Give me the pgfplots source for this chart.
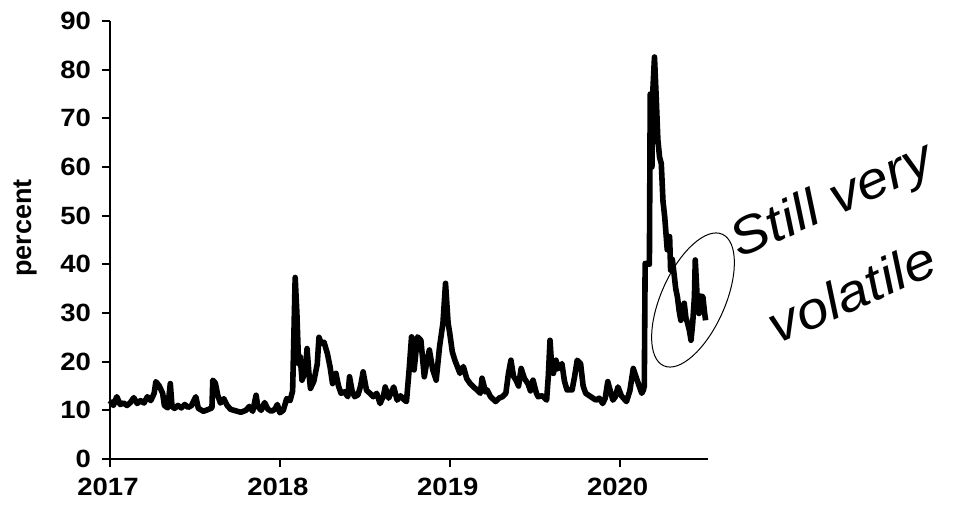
\documentclass[border=0pt]{standalone}
\usepackage{fontspec}
\setmainfont{Liberation Sans}[FakeStretch=1.1, BoldFeatures={FakeStretch=1.1}]
\newfontfamily\labfont{Liberation Sans}
\newfontfamily\handfont{Liberation Sans}[FakeStretch=1.1, ItalicFeatures={FakeStretch=1.1}]
\usepackage{pgfplots}
\pgfplotsset{compat=1.18}
\usetikzlibrary{shapes.geometric}
\pgfplotstableread{
x y
2017.00 12.0
2017.02 11.0
2017.04 12.8
2017.06 11.2
2017.08 11.5
2017.10 11.0
2017.12 11.6
2017.14 12.6
2017.16 11.4
2017.18 12.0
2017.20 11.5
2017.22 12.8
2017.24 12.0
2017.26 13.5
2017.27 15.9
2017.29 15.0
2017.31 13.5
2017.32 11.0
2017.34 10.5
2017.355 15.5
2017.365 10.8
2017.38 10.4
2017.40 11.0
2017.42 10.5
2017.44 11.2
2017.46 10.6
2017.48 11.0
2017.505 12.8
2017.52 10.4
2017.55 9.8
2017.58 10.2
2017.60 10.5
2017.605 16.2
2017.62 15.6
2017.635 13.0
2017.65 11.5
2017.67 12.4
2017.69 11.0
2017.71 10.2
2017.74 9.9
2017.77 9.6
2017.80 10.0
2017.82 10.8
2017.84 9.8
2017.86 13.1
2017.87 10.8
2017.89 10.0
2017.91 11.6
2017.93 10.2
2017.95 9.8
2017.97 10.2
2017.985 11.2
2018.00 9.5
2018.02 10.0
2018.04 12.4
2018.06 12.0
2018.075 14.0
2018.09 37.3
2018.10 30.0
2018.11 19.6
2018.12 21.0
2018.13 16.2
2018.15 18.0
2018.16 22.7
2018.17 18.0
2018.18 14.5
2018.20 16.0
2018.22 19.5
2018.23 25.0
2018.245 23.7
2018.26 24.0
2018.28 21.6
2018.295 19.0
2018.31 15.5
2018.33 17.6
2018.345 15.0
2018.36 13.5
2018.38 13.8
2018.40 12.8
2018.41 16.9
2018.425 14.0
2018.44 12.8
2018.46 13.2
2018.475 15.0
2018.49 17.9
2018.50 16.0
2018.51 14.1
2018.53 13.5
2018.55 12.8
2018.57 13.5
2018.59 11.4
2018.61 13.0
2018.62 14.8
2018.64 12.5
2018.67 14.8
2018.69 12.1
2018.71 13.0
2018.73 12.2
2018.745 11.8
2018.76 18.0
2018.775 25.1
2018.79 18.3
2018.81 25.1
2018.83 24.4
2018.85 16.9
2018.865 20.0
2018.88 22.4
2018.90 18.3
2018.92 16.2
2018.94 23.1
2018.96 28.0
2018.975 36.1
2018.99 28.0
2019.00 25.8
2019.015 22.0
2019.03 20.3
2019.06 17.6
2019.08 19.0
2019.10 16.5
2019.12 15.5
2019.14 14.8
2019.16 14.2
2019.18 13.5
2019.19 16.6
2019.21 13.8
2019.22 14.2
2019.24 12.8
2019.27 11.8
2019.29 12.5
2019.31 12.8
2019.33 13.5
2019.345 17.5
2019.36 20.3
2019.375 17.0
2019.39 16.2
2019.405 15.0
2019.42 18.6
2019.44 16.5
2019.46 15.5
2019.475 14.0
2019.49 16.2
2019.51 13.5
2019.52 12.8
2019.545 13.0
2019.57 12.1
2019.58 17.0
2019.59 24.4
2019.60 19.0
2019.61 17.6
2019.625 20.3
2019.635 18.5
2019.66 19.6
2019.675 16.0
2019.69 14.2
2019.72 14.2
2019.735 17.0
2019.75 20.3
2019.77 19.6
2019.785 15.0
2019.80 13.5
2019.83 12.8
2019.86 12.1
2019.88 12.5
2019.90 11.4
2019.915 12.5
2019.93 15.9
2019.945 14.0
2019.96 12.1
2019.975 12.8
2019.99 14.8
2020.01 13.0
2020.04 11.8
2020.06 14.0
2020.08 18.6
2020.095 17.0
2020.11 15.5
2020.13 13.5
2020.14 14.2
2020.145 15.0
2020.15 40.2
2020.175 40.0
2020.18 75.0
2020.19 60.0
2020.195 75.5
2020.205 82.6
2020.215 74.4
2020.225 65.5
2020.235 62.0
2020.245 60.7
2020.255 53.0
2020.265 49.8
2020.28 43.0
2020.294 45.7
2020.30 38.8
2020.31 41.0
2020.32 38.1
2020.33 35.0
2020.34 33.3
2020.35 30.5
2020.36 28.5
2020.37 31.0
2020.38 32.0
2020.39 29.0
2020.40 27.9
2020.41 26.5
2020.42 24.4
2020.43 28.0
2020.44 33.3
2020.445 40.9
2020.455 34.0
2020.467 29.9
2020.48 33.5
2020.49 33.3
2020.50 30.0
2020.506 28.5
}\vix
\begin{document}
\begin{tikzpicture}
\useasboundingbox (-55pt,-23pt) rectangle (422.5pt,229.5pt);
\begin{axis}[
  at={(0,0)}, anchor=south west, scale only axis,
  width=299pt, height=219pt,
  xmin=2017, xmax=2020.52, ymin=0, ymax=90,
  axis lines=left,
  axis line style={line width=1.2pt, -},
  xtick={2017,2018,2019,2020},
  ytick={0,10,...,90},
  tick align=outside,
  major tick length=4pt,
  tick style={line width=1pt, black},
  /pgf/number format/assume math mode=true,
  /pgf/number format/1000 sep={},
  xticklabel style={font=\bfseries\fontsize{12.5}{12.5}\selectfont, xshift=-1pt, yshift=-2pt},
  yticklabel style={font=\bfseries\fontsize{12.5}{12.5}\selectfont, xshift=-2pt},
  ylabel={\labfont\bfseries\fontsize{13.5}{13.5}\selectfont percent},
  every axis y label/.style={at={(axis description cs:-0.1405,0.527)}, rotate=90, anchor=center},
  clip=false,
]
\addplot[black, line width=2.8pt, line join=round] table[x=x, y=y] {\vix};
\end{axis}
\node[draw, ellipse, rotate=66, minimum width=72pt, minimum height=32pt, line width=0.5pt, inner sep=0pt] at (291.5pt,79.5pt) {};
\node[rotate=24, align=left, inner sep=0pt, font=\handfont\itshape\fontsize{26}{47}\selectfont] at (370pt,109pt) {Still very\\volatile};
\end{tikzpicture}
\end{document}
